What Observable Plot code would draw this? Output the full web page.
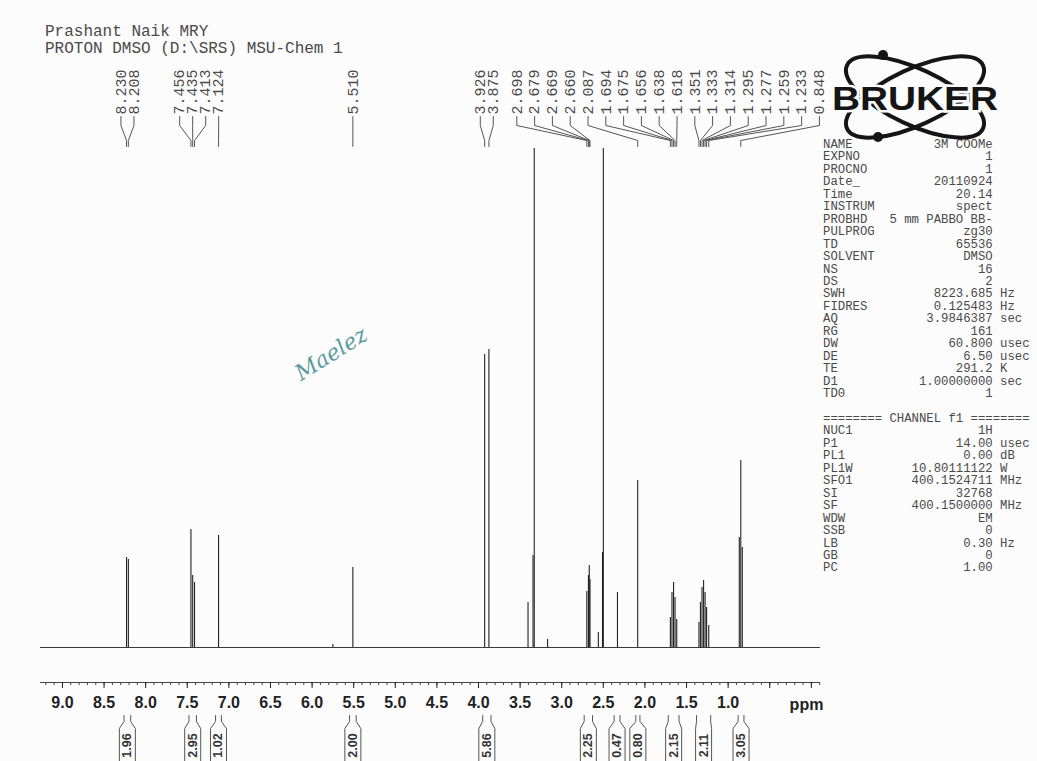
<!DOCTYPE html>
<html><head><meta charset="utf-8">
<script src="https://cdn.jsdelivr.net/npm/d3@7"></script>
<script src="https://cdn.jsdelivr.net/npm/@observablehq/plot@0.6"></script>
<style>
html,body{margin:0;padding:0;background:#fff;}
#wrap{position:relative;width:1037px;height:761px;overflow:hidden;background:#fcfcfc;}
#wrap svg.plotsvg{position:absolute;left:0;top:0;}
.mono{font-family:"Liberation Mono","Courier New",monospace;color:#4a4a4a;white-space:pre;position:absolute;}
#title{left:45px;top:24px;font-size:16px;line-height:17px;}
#params{left:823px;top:139px;font-size:12.3px;line-height:12.45px;}
#logo{position:absolute;left:825px;top:45px;}
#sig{position:absolute;left:280px;top:320px;}
</style></head><body>
<div id="wrap">
  <div id="title" class="mono"></div>
  <div id="params" class="mono"></div>
  <svg id="logo" width="190" height="105">
    <g transform="translate(90,52)" fill="none" stroke="#151515" stroke-width="4">
      <ellipse rx="75" ry="28" transform="rotate(25)"/>
      <ellipse rx="75" ry="28" transform="rotate(-25)"/>
    </g>
    <circle cx="58" cy="10" r="5" fill="#151515"/>
    <circle cx="53" cy="92" r="5" fill="#151515"/>
    <text x="90" y="65" text-anchor="middle" font-family="Liberation Sans, Arial" font-weight="bold" font-size="34" textLength="166" lengthAdjust="spacingAndGlyphs" fill="#151515" stroke="#fcfcfc" stroke-width="5" paint-order="stroke">BRUKER</text>
  </svg>
  <svg id="sig" width="110" height="70">
    <text x="55" y="40" text-anchor="middle" transform="rotate(-32 55 40)" font-family="DejaVu Serif" font-style="italic" font-size="22" fill="#3f8a8c" opacity="0.85">Maelez</text>
  </svg>
</div>
<script>
// ---------- data ----------
const title1 = "Prashant Naik MRY";
const title2 = "PROTON DMSO (D:\\SRS) MSU-Chem 1";

// labelled peak positions (ppm)
const peakLabels = [8.230, 8.208, 7.456, 7.435, 7.413, 7.124, 5.510, 3.926, 3.875,
  2.698, 2.679, 2.669, 2.660, 2.087, 1.694, 1.675, 1.656, 1.638, 1.618,
  1.351, 1.333, 1.314, 1.295, 1.277, 1.259, 1.233, 0.848];

// spectrum lines (ppm) and their heights (intensity)
const linePpm = [8.230, 8.208, 7.456, 7.435, 7.413, 7.124, 5.750, 5.510, 3.926, 3.875,
  3.405, 3.345, 3.330, 3.170, 2.698, 2.679, 2.669, 2.660, 2.560, 2.510, 2.500, 2.330, 2.087,
  1.694, 1.675, 1.656, 1.638, 1.618, 1.351, 1.333, 1.314, 1.295, 1.277, 1.259, 1.233,
  0.866, 0.848, 0.830];
const lineHeight = [90, 88, 118, 72, 65, 112, 3, 80, 293, 298,
  45, 92, 700, 8, 56, 72, 82, 68, 15, 95, 700, 55, 167,
  30, 55, 65, 50, 28, 25, 45, 60, 67, 55, 40, 22,
  110, 187, 100];

// integrals
const integralValues = ["1.96", "2.95", "1.02", "2.00", "5.86", "2.25", "0.47", "0.80", "2.15", "2.11", "3.05"];
const integralFrom = [8.26, 7.48, 7.16, 5.55, 3.95, 2.73, 2.37, 2.11, 1.72, 1.38, 0.88];
const integralTo   = [8.18, 7.39, 7.09, 5.47, 3.85, 2.63, 2.30, 2.06, 1.59, 1.21, 0.81];

// axis ticks
const majorTicks = d3.range(0, 19).map(i => i * 0.5);
const minorTicks = d3.range(-1, 93).map(i => i / 10);

// acquisition parameters
const paramNames = ["NAME","EXPNO","PROCNO","Date_","Time","INSTRUM","PROBHD","PULPROG","TD","SOLVENT","NS","DS","SWH","FIDRES","AQ","RG","DW","DE","TE","D1","TD0"];
const paramValues = ["3M COOMe","1","1","20110924","20.14","spect","5 mm PABBO BB-","zg30","65536","DMSO","16","2","8223.685","0.125483","3.9846387","161","60.800","6.50","291.2","1.00000000","1"];
const paramUnits = ["","","","","","","","","","","","","Hz","Hz","sec","","usec","usec","K","sec",""];
const channelTitle = "======== CHANNEL f1 ========";
const chNames = ["NUC1","P1","PL1","PL1W","SFO1","SI","SF","WDW","SSB","LB","GB","PC"];
const chValues = ["1H","14.00","0.00","10.80111122","400.1524711","32768","400.1500000","EM","0","0.30","0","1.00"];
const chUnits = ["","usec","dB","W","MHz","","MHz","","","Hz","",""];

// ---------- layout ----------
const W = 1037, H = 761;
const ML = 40, MR = 217, MT = 148, MB = 79;
const basePx = 647;                 // pixel row of the spectrum baseline
const u = px => basePx - px;        // y units: 1 unit = 1 px above baseline
const xDomain = [9.264, -0.11];
const xs = d3.scaleLinear().domain(xDomain).range([ML, W - MR]);
const mono = "Liberation Mono, Courier New, monospace";
const sans = "Liberation Sans, Arial, sans-serif";

// title & params
document.getElementById("title").textContent = title1 + "\n" + title2;
const row = (n, v, un) => n.padEnd(Math.max(n.length + 1, 23 - v.length)) + v + (un ? " " + un : "");
const rows = paramNames.map((n, i) => row(n, paramValues[i], paramUnits[i]));
rows.push("", channelTitle);
chNames.forEach((n, i) => rows.push(row(n, chValues[i], chUnits[i])));
document.getElementById("params").textContent = rows.join("\n");

// peak label placement: merge overlapping clusters, spread evenly around mean
const gapFor = n => n > 6 ? 17.8 : 13;
let groups = peakLabels.map((v, i) => [i]);
const centerOf = g => d3.mean(g, i => xs(peakLabels[i]));
let changed = true;
while (changed) {
  changed = false;
  for (let k = 0; k < groups.length - 1; k++) {
    const a = groups[k], b = groups[k + 1];
    const ga = gapFor(a.length), gb = gapFor(b.length);
    const aR = centerOf(a) + (a.length - 1) * ga / 2;
    const bL = centerOf(b) - (b.length - 1) * gb / 2;
    if (bL - aR < Math.max(ga, gb)) { groups.splice(k, 2, a.concat(b)); changed = true; break; }
  }
}
const labels = [];
groups.forEach(g => {
  const c = centerOf(g), gap = gapFor(g.length);
  g.forEach((i, j) => labels.push({ v: peakLabels[i], lx: xs.invert(c + (j - (g.length - 1) / 2) * gap) }));
});
const connectors = [];
labels.forEach((d, k) => {
  connectors.push({ id: k, x: d.lx, y: u(116) });
  connectors.push({ id: k, x: d.lx, y: u(125) });
  connectors.push({ id: k, x: d.v, y: u(140) });
  connectors.push({ id: k, x: d.v, y: u(146) });
});

// integrals
const integrals = integralValues.map((t, i) => {
  const c = (xs(integralFrom[i]) + xs(integralTo[i])) / 2;
  return { t, from: integralFrom[i], to: integralTo[i], c: xs.invert(c), cl: xs.invert(c - 8), cr: xs.invert(c + 8) };
});
const boxLines = [];
integrals.forEach((d, i) => {
  [[d.from, d.cl], [d.to, d.cr]].forEach(([e, s], side) => {
    const id = i * 2 + side;
    boxLines.push({ id, x: e, y: u(715) }, { id, x: e, y: u(721) }, { id, x: s, y: u(728) }, { id, x: s, y: u(775) });
  });
});

const peaks = linePpm.map((p, i) => ({ ppm: p, h: lineHeight[i] }));

const chart = Plot.plot({
  width: W, height: H,
  marginLeft: ML, marginRight: MR, marginTop: MT, marginBottom: MB,
  x: { domain: xDomain },
  y: { domain: [u(H - MB), u(MT)], axis: null },
  style: { background: "transparent", overflow: "visible" },
  marks: [
    Plot.ruleY([0], { stroke: "#3a3a3a", strokeWidth: 1 }),
    Plot.ruleX(peaks, { x: "ppm", y1: 0, y2: "h", stroke: "#222", strokeWidth: 1.1, clip: true }),
    Plot.ruleY([u(H - MB)], { stroke: "#444", strokeWidth: 1 }),
    Plot.axisX(minorTicks, { tickSize: 3, tickFormat: () => "", label: null, color: "#444" }),
    Plot.axisX(majorTicks, { tickSize: 6, tickPadding: 8, label: null, color: "#222",
      tickFormat: d => d >= 1 ? d.toFixed(1) : "", fontSize: 16, fontWeight: "bold", fontFamily: sans }),
    Plot.text(["ppm"], { x: xs.invert(806), y: u(704), fontSize: 16, fontWeight: "bold", fontFamily: sans, fill: "#222" }),
    Plot.line(connectors, { x: "x", y: "y", z: "id", stroke: "#555", strokeWidth: 1 }),
    Plot.text(labels, { x: "lx", y: () => u(114), text: d => d.v.toFixed(3), rotate: -90, textAnchor: "start",
      fontFamily: mono, fontSize: 15, fill: "#4a4a4a" }),
    Plot.line(boxLines, { x: "x", y: "y", z: "id", stroke: "#555", strokeWidth: 1 }),
    Plot.text(integrals, { x: "c", y: () => u(745), text: "t", rotate: -90, fontFamily: sans,
      fontWeight: "bold", fontSize: 12.5, fill: "#333" })
  ]
});
chart.classList.add("plotsvg");
document.getElementById("wrap").appendChild(chart);
</script>
</body></html>
